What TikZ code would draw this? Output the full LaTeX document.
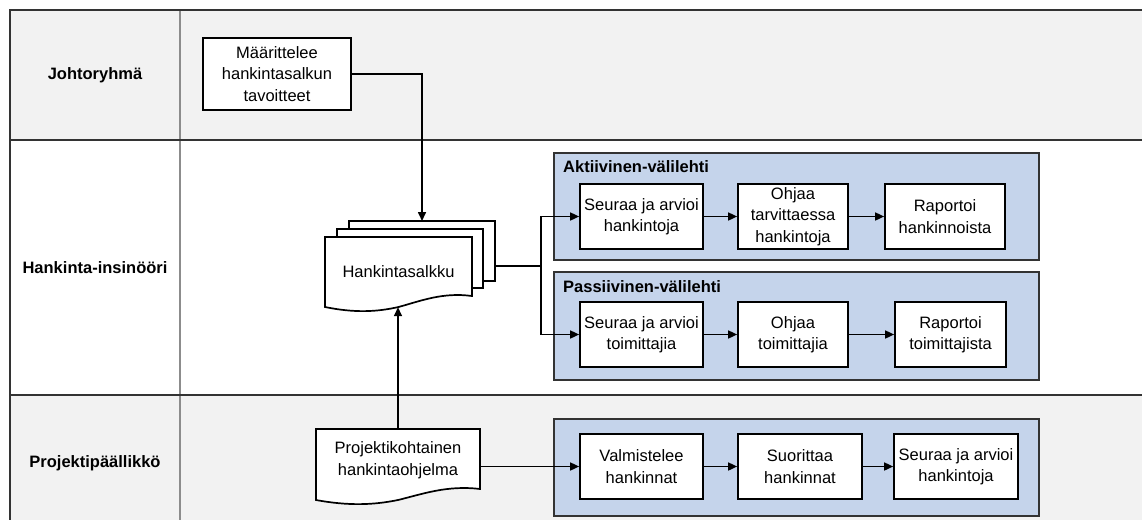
\documentclass[tikz,border=0pt]{standalone}
\usepackage{fontspec}
\setmainfont{Liberation Sans}
\usetikzlibrary{arrows.meta,calc}
\definecolor{lanegray}{HTML}{F2F2F2}
\definecolor{groupblue}{HTML}{C5D4EB}
\definecolor{rulegray}{HTML}{8C8C8C}
\definecolor{framedark}{HTML}{333333}
% document page with a wavy lower edge: [style] left, top, right, bottom
\newcommand\wavedoc[5][]{%
  \filldraw[docpage,#1] (#2,#3) -- (#4,#3) -- (#4,{#5-11})
    .. controls ({#2+0.8*(#4-#2)},{#5-15}) and ({#2+0.65*(#4-#2)},{#5-6}) .. ({#2+0.5*(#4-#2)},#5)
    .. controls ({#2+0.35*(#4-#2)},{#5+5}) and ({#2+0.2*(#4-#2)},{#5+6}) .. (#2,#5) -- cycle;}
\begin{document}
\begin{tikzpicture}[x=1pt,y=-1pt,
  every node/.style={font=\fontsize{16.5}{21.5}\selectfont, inner sep=0pt},
  stepbox/.style={draw=black, line width=1.7pt, fill=white, align=center, minimum height=65pt},
  group/.style={draw=framedark, line width=1.7pt, fill=groupblue, anchor=north west},
  grouptitle/.style={font=\fontsize{16.5}{20}\selectfont\bfseries, anchor=west},
  lanelabel/.style={font=\fontsize{16.5}{20}\selectfont\bfseries},
  arr/.style={line width=1.6pt, -{Triangle[length=9pt,width=8pt]}},
  link/.style={line width=2pt},
  docpage/.style={draw=black, line width=1.7pt, fill=white},
  doctext/.style={align=center}
]
\useasboundingbox (0,0) rectangle (1142,520);

% swimlanes
\fill[lanegray] (10,10) rectangle (1142,140);
\fill[white] (10,140) rectangle (1142,395);
\fill[lanegray] (10,395) rectangle (1142,520);
\draw[rulegray, line width=2pt] (180,10) -- (180,520);
\draw[framedark, line width=2.2pt] (1142,10) -- (10,10) -- (10,520);
\draw[framedark, line width=2.2pt] (10,140) -- (1142,140);
\draw[framedark, line width=2.2pt] (10,395) -- (1142,395);

\node[lanelabel] (l1) at (95,75) {Johtoryhmä};
\node[lanelabel] (l2) at (95,267.5) {Hankinta-insinööri};
\node[lanelabel] (l3) at (95,463) {Projektipäällikkö};

% management goal
\node[stepbox, minimum width=148pt, minimum height=72pt] (def) at (277,74)
  {Määrittelee\\hankintasalkun\\tavoitteet};

% portfolio: stack of three pages
\filldraw[docpage] (349,221) rectangle (495,281);
\filldraw[docpage] (337,229) rectangle (483,288);
\wavedoc{325}{237}{472}{307}
\node[doctext, minimum width=147pt, minimum height=70pt] (salkku) at (398.5,272) {Hankintasalkku};
\coordinate (p3top) at (422,221);
\coordinate (p3out) at (495,266);
\coordinate (fork) at (541,266);

% project programme document
\wavedoc{316}{429}{480}{500}
\node[doctext, minimum width=164pt, minimum height=62pt] (proj) at (398,460)
  {Projektikohtainen\\hankintaohjelma};

% active tab
\node[group, minimum width=485pt, minimum height=107pt] (gA) at (553,152) {};
\node[grouptitle] (tA) at (563,167) {Aktiivinen-välilehti};
\node[stepbox, minimum width=123pt] (a1) at (641.5,216.5) {Seuraa ja arvioi\\hankintoja};
\node[stepbox, minimum width=110pt] (a2) at (793,216.5) {Ohjaa\\tarvittaessa\\hankintoja};
\node[stepbox, minimum width=120pt] (a3) at (945,216.5) {Raportoi\\hankinnoista};

% passive tab
\node[group, minimum width=485pt, minimum height=108pt] (gP) at (553,271) {};
\node[grouptitle] (tP) at (563,287) {Passiivinen-välilehti};
\node[stepbox, minimum width=123pt] (p1) at (641.5,334.5) {Seuraa ja arvioi\\toimittajia};
\node[stepbox, minimum width=110pt] (p2) at (793,334.5) {Ohjaa\\toimittajia};
\node[stepbox, minimum width=111pt] (p3) at (950.5,334.5) {Raportoi\\toimittajista};

% project manager chain
\node[group, minimum width=485pt, minimum height=97pt] (gC) at (553,418) {};
\node[stepbox, minimum width=123pt] (b1) at (641.5,466.5) {Valmistelee\\hankinnat};
\node[stepbox, minimum width=124pt] (b2) at (800,466.5) {Suorittaa\\hankinnat};
\node[stepbox, minimum width=124pt] (b3) at (956,466.5) {Seuraa ja arvioi\\hankintoja};

% connectors
\draw[arr] (def.east) -| (p3top);
\draw[link] (p3out) -- (fork);
\draw[arr] (fork) |- (a1.west);
\draw[arr] (fork) |- (p1.west);
\draw[arr] (a1) -- (a2);
\draw[arr] (a2) -- (a3);
\draw[arr] (p1) -- (p2);
\draw[arr] (p2) -- (p3);
\draw[arr] (proj.north) -- (proj.north |- salkku.south);
\draw[arr] (proj.east |- b1.west) -- (b1.west);
\draw[arr] (b1) -- (b2);
\draw[arr] (b2) -- (b3);
\end{tikzpicture}
\end{document}
